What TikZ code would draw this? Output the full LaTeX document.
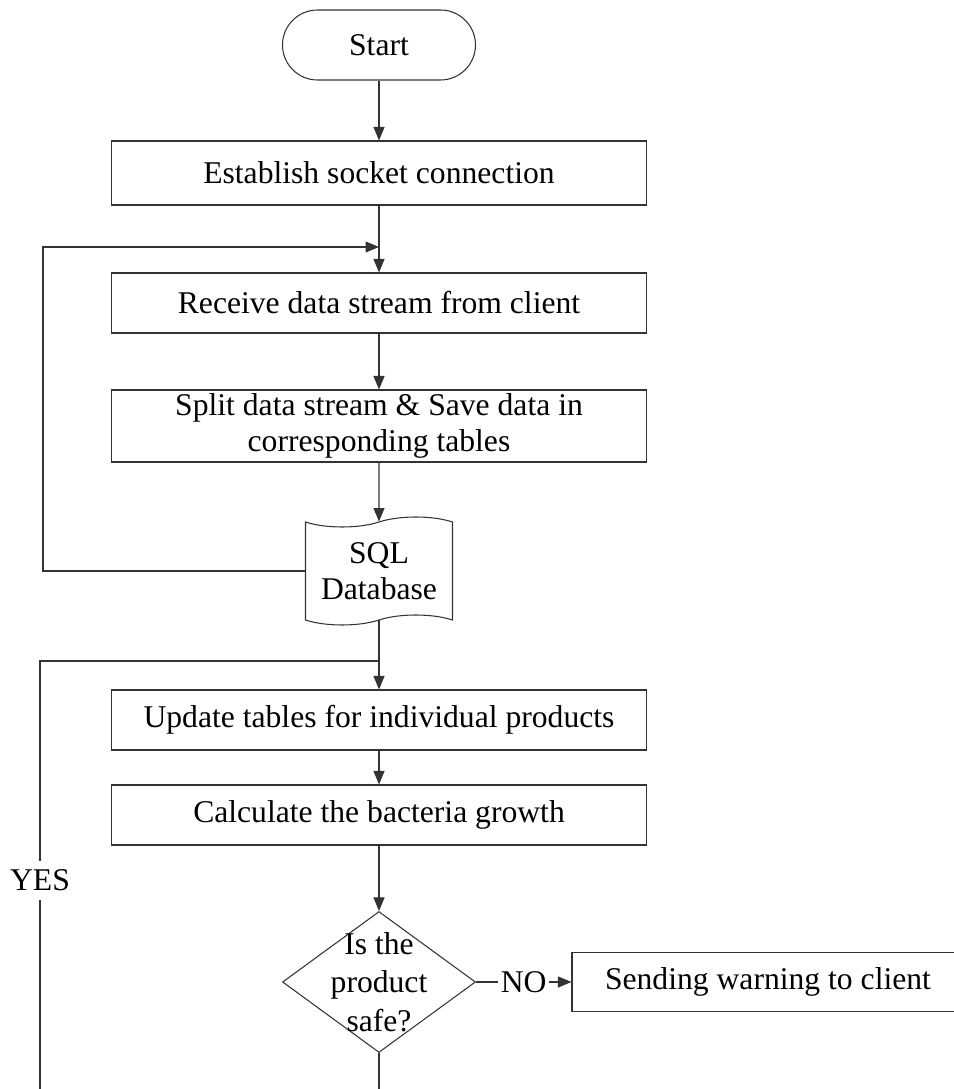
\documentclass[tikz,border=0pt]{standalone}
\usepackage{fontspec}
\setmainfont{Liberation Serif}
\usetikzlibrary{shapes.geometric, shapes.symbols, arrows.meta, positioning}

\begin{document}
\begin{tikzpicture}[
    % Define styles
    terminal/.style={
        draw=black!80,
        rounded corners=0.7cm,
        minimum width=3.86cm,
        minimum height=1.4cm
    },
    process/.style={
        draw=black!80,
        minimum width=10.7cm,
        minimum height=1.2cm,
        align=center
    },
    storage/.style={
        draw=black!80,
        tape,
        tape bend height=0.2cm,
        minimum width=2.94cm,
        minimum height=2.16cm,
        align=center
    },
    decision/.style={
        draw=black!80,
        diamond,
        minimum width=3.86cm,
        minimum height=2.82cm,
        inner sep=0pt
    },
    arrow/.style={
        -{Triangle[length=0.27cm, width=0.22cm]},
        black!80
    },
    link/.style={
        black!80
    },
    flowlabel/.style={
        fill=white,
        text=black,
        inner xsep=1.5pt,
        inner ysep=5pt
    },
    line width=0.6pt,
    font=\fontsize{18pt}{20.5pt}\selectfont
]
\useasboundingbox (0,0) rectangle (19.08,21.78);

% ============================================================
% Main flow
% ============================================================
\node[terminal] (start) at (7.58, 20.88) {Start};
\node[process, minimum height=1.28cm] (connect) at (7.58, 18.32) {Establish socket connection};
\node[process] (receive) at (7.58, 15.72) {Receive data stream from client};
\node[process, minimum height=1.44cm, inner ysep=2pt] (split) at (7.58, 13.26) {Split data stream \& Save data in\\corresponding tables};
\node[storage] (sqldb) at (7.58, 10.36) {SQL\\Database};
\node[process] (update) at (7.58, 7.38) {Update tables for individual products};
\node[process] (bacteria) at (7.58, 5.48) {Calculate the bacteria growth};

% Decision
\node[decision] (safe) at (7.58, 2.14) {};
\node[align=center, font=\fontsize{18pt}{22pt}\selectfont] (safetext) at (safe) {Is the\\product\\safe?};
\node[process, minimum width=7.84cm, minimum height=1.18cm] (warning) at (15.36, 2.14) {Sending warning to client};

% Helper points
\coordinate (loopin) at (7.58, 16.84);
\coordinate (loopx) at (0.86, 0);
\coordinate (merge) at (7.58, 8.56);
\coordinate (yesx) at (0.8, 0);

% ============================================================
% Connections
% ============================================================
\draw[arrow] (start) -- (connect);
\draw[arrow] (connect) -- (receive);
\draw[arrow] (receive) -- (split);
\draw[arrow] (split) -- (sqldb);

% Loop back to receive
\draw[arrow] (sqldb.west) -- (sqldb.west -| loopx) |- (loopin);

% Continue to update
\draw[link] (sqldb.south) -- (merge);
\draw[arrow] (merge) -- (update);
\draw[arrow] (update) -- (bacteria);
\draw[arrow] (bacteria) -- (safe);

% Decision branches
\draw[arrow] (safe.east) -- node[flowlabel] {NO} (warning.west);
\draw[link] (safe.south) -- (safe.south |- yesx);
\draw[link] (yesx) |- node[flowlabel, pos=0.244] {YES} (merge);

\end{tikzpicture}
\end{document}
